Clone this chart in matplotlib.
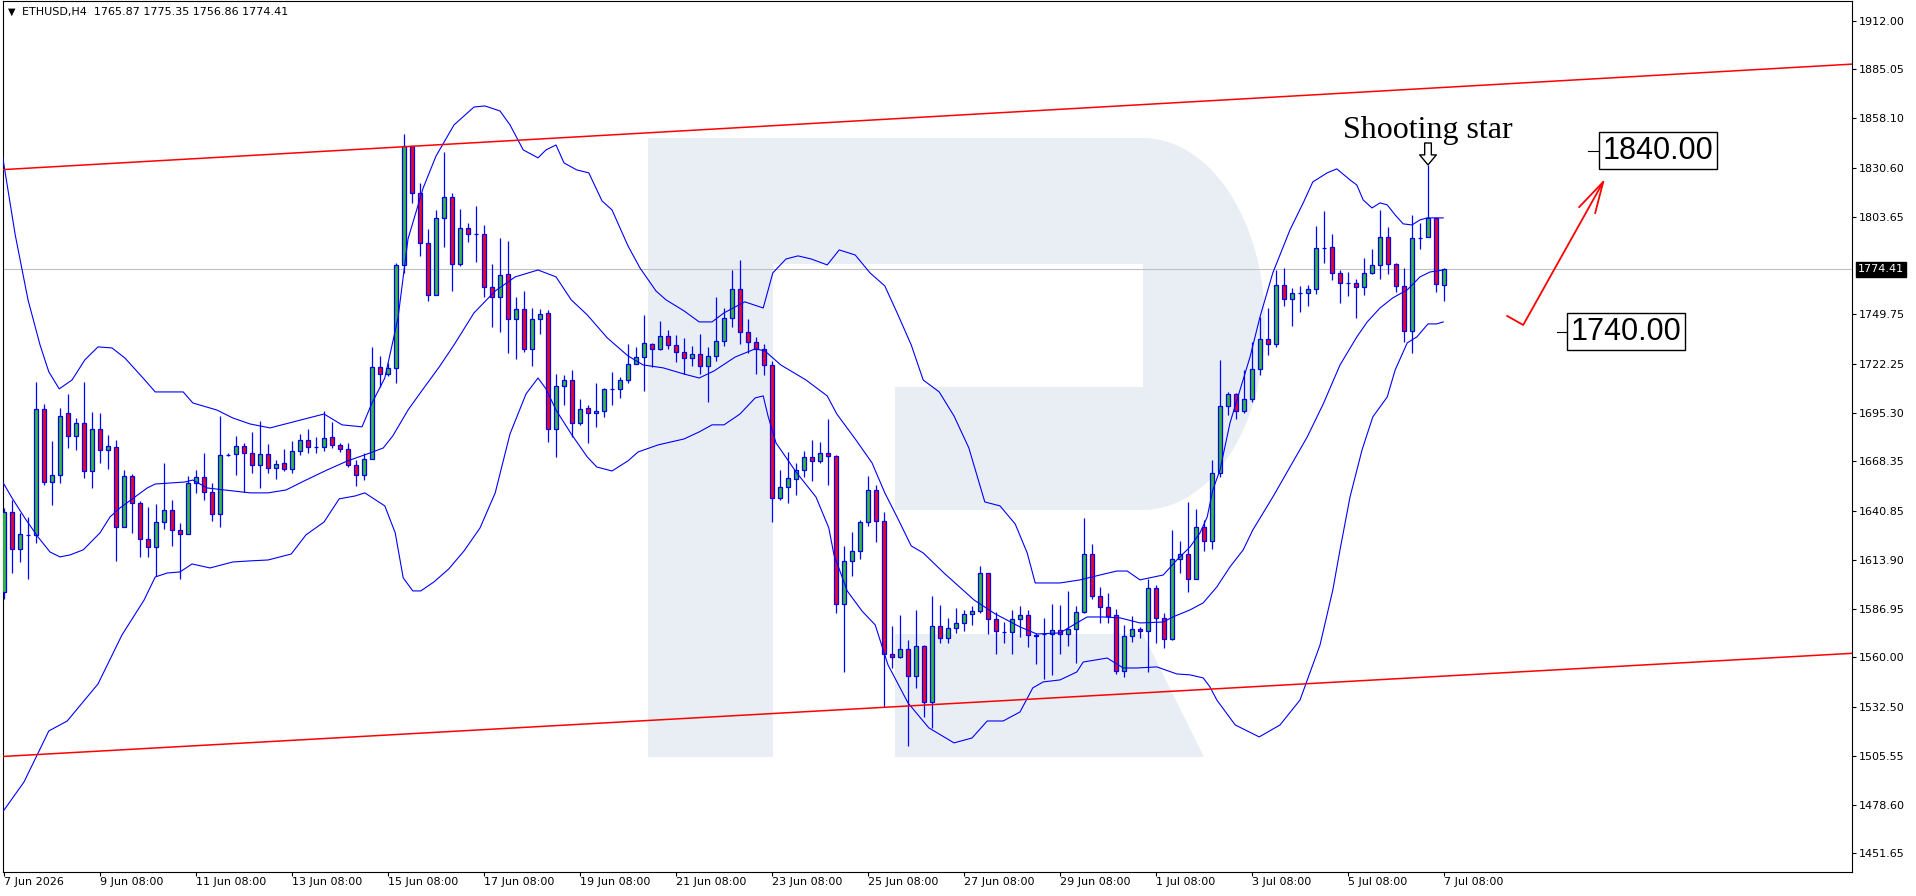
import matplotlib
matplotlib.use('Agg')
import matplotlib.pyplot as plt
from matplotlib.patches import Polygon
from matplotlib.transforms import blended_transform_factory
import numpy as np

# ---- data (H4 bars, 7 Jun 08:00 .. 7 Jul 08:00) ----
symbol = 'ETHUSD,H4'
last_ohlc = '1765.87 1775.35 1756.86 1774.41'

opens = [
    1596.3, 1640.5, 1619.7, 1627.6, 1627.6, 1697.1, 1656.8, 1660.6, 1694.9, 1682.2,
    1689.4, 1662.8, 1686.1, 1674.4, 1676.1, 1631.9, 1660.1, 1645.2, 1625.3, 1620.8,
    1635.0, 1641.3, 1630.2, 1628.0, 1656.2, 1659.5, 1651.2, 1639.1, 1671.9, 1672.2,
    1676.7, 1672.8, 1666.3, 1672.4, 1664.5, 1667.4, 1663.9, 1673.9, 1680.0, 1676.1,
    1676.1, 1681.6, 1677.4, 1675.0, 1666.3, 1660.6, 1669.9, 1720.3, 1716.6, 1719.8,
    1776.7, 1842.5, 1816.7, 1788.9, 1760.3, 1802.7, 1814.3, 1777.3, 1797.2, 1793.8,
    1793.8, 1764.7, 1759.2, 1771.9, 1746.9, 1752.4, 1730.3, 1746.9, 1750.2, 1686.1,
    1710.0, 1713.3, 1689.4, 1697.7, 1694.9, 1696.4, 1708.4, 1708.2, 1713.3, 1722.2,
    1726.2, 1733.0, 1730.3, 1737.5, 1732.7, 1728.6, 1725.3, 1727.5, 1720.9, 1726.4,
    1734.9, 1747.4, 1763.4, 1739.7, 1734.2, 1730.5, 1721.6, 1647.9, 1654.0, 1658.4,
    1663.4, 1670.6, 1668.4, 1672.8, 1671.3, 1589.3, 1613.1, 1618.6, 1634.7, 1652.3,
    1635.2, 1561.7, 1560.0, 1564.4, 1549.5, 1566.1, 1535.5, 1577.2, 1570.5, 1576.1,
    1579.0, 1584.0, 1585.4, 1606.5, 1581.0, 1574.0, 1573.8, 1581.0, 1583.2, 1572.6,
    1572.9, 1572.9, 1574.9, 1572.7, 1575.5, 1584.9, 1616.9, 1593.9, 1587.7, 1583.2,
    1552.5, 1571.8, 1575.5, 1574.4, 1598.5, 1581.7, 1570.1, 1614.2, 1616.9, 1603.1,
    1632.3, 1624.1, 1662.1, 1699.1, 1705.4, 1696.2, 1702.6, 1719.2, 1735.8, 1733.0,
    1765.8, 1757.9, 1761.6, 1761.6, 1763.4, 1786.5, 1786.7, 1772.3, 1767.1, 1767.1,
    1764.6, 1772.3, 1776.7, 1792.6, 1777.3, 1765.3, 1740.2, 1792.0, 1792.2, 1803.1,
    1765.87]

highs = [
    1642.4, 1647.0, 1639.6, 1637.8, 1712.0, 1700.1, 1679.6, 1697.7, 1705.6, 1692.5,
    1712.0, 1695.8, 1694.9, 1682.7, 1680.2, 1663.6, 1661.6, 1646.6, 1643.3, 1644.6,
    1667.6, 1647.0, 1634.1, 1660.4, 1663.6, 1673.2, 1656.2, 1693.4, 1672.8, 1682.4,
    1678.3, 1684.8, 1690.6, 1677.9, 1669.1, 1675.2, 1679.6, 1683.5, 1686.1, 1682.0,
    1696.2, 1689.9, 1678.7, 1678.3, 1669.1, 1673.1, 1731.8, 1726.6, 1722.5, 1777.8,
    1849.3, 1842.5, 1822.1, 1796.8, 1807.3, 1839.6, 1816.9, 1807.9, 1799.9, 1809.5,
    1799.0, 1777.3, 1791.6, 1790.0, 1759.4, 1762.7, 1752.9, 1752.8, 1752.0, 1716.6,
    1716.1, 1718.9, 1702.8, 1699.5, 1711.8, 1709.1, 1717.9, 1715.2, 1733.2, 1731.6,
    1749.3, 1734.0, 1745.9, 1741.0, 1738.2, 1736.5, 1732.1, 1738.8, 1731.6, 1759.4,
    1753.3, 1774.1, 1779.7, 1747.0, 1737.1, 1733.0, 1724.0, 1663.6, 1673.5, 1667.3,
    1674.1, 1680.2, 1679.2, 1692.0, 1671.9, 1621.6, 1629.3, 1635.9, 1660.3, 1655.3,
    1640.5, 1577.3, 1583.4, 1569.6, 1586.2, 1566.8, 1593.9, 1589.0, 1581.6, 1587.1,
    1586.2, 1588.6, 1610.5, 1606.5, 1585.3, 1579.7, 1586.2, 1588.4, 1586.2, 1573.3,
    1581.6, 1589.3, 1588.9, 1596.7, 1588.4, 1636.9, 1622.7, 1599.1, 1595.4, 1586.5,
    1577.9, 1582.9, 1577.0, 1603.3, 1600.0, 1584.7, 1630.4, 1624.3, 1645.7, 1641.8,
    1636.0, 1669.1, 1724.4, 1706.9, 1705.9, 1718.9, 1734.5, 1748.3, 1752.9, 1774.1,
    1775.1, 1764.0, 1765.3, 1765.8, 1798.5, 1806.8, 1794.0, 1774.1, 1772.9, 1769.0,
    1780.6, 1785.7, 1807.3, 1798.1, 1778.2, 1775.1, 1804.5, 1800.0, 1832.2, 1803.1,
    1775.35]

lows = [
    1592.0, 1606.5, 1612.9, 1603.3, 1623.0, 1655.3, 1644.2, 1656.6, 1675.7, 1674.6,
    1659.2, 1653.8, 1667.6, 1664.3, 1613.5, 1631.9, 1628.9, 1615.7, 1615.7, 1605.2,
    1631.1, 1621.7, 1603.1, 1628.0, 1650.7, 1647.0, 1635.6, 1632.3, 1671.3, 1660.8,
    1651.6, 1661.7, 1653.4, 1661.7, 1658.4, 1663.0, 1661.7, 1671.9, 1672.8, 1672.8,
    1674.3, 1675.5, 1673.5, 1665.0, 1654.7, 1658.0, 1669.5, 1709.3, 1715.5, 1711.5,
    1772.3, 1811.0, 1782.1, 1757.2, 1760.3, 1786.7, 1762.7, 1776.5, 1789.8, 1778.4,
    1759.4, 1742.4, 1740.0, 1728.4, 1724.8, 1729.0, 1721.3, 1738.6, 1679.2, 1670.9,
    1699.5, 1681.6, 1688.5, 1678.3, 1687.2, 1693.1, 1699.5, 1703.6, 1711.5, 1722.0,
    1707.4, 1720.3, 1729.9, 1730.7, 1723.5, 1716.5, 1721.3, 1716.5, 1701.4, 1724.0,
    1732.1, 1742.8, 1733.0, 1728.4, 1716.5, 1716.0, 1635.0, 1647.0, 1645.2, 1649.8,
    1659.5, 1657.7, 1667.3, 1655.1, 1584.7, 1552.1, 1605.2, 1614.2, 1632.8, 1624.0,
    1532.4, 1553.9, 1559.5, 1511.2, 1542.9, 1527.2, 1520.8, 1567.8, 1567.8, 1573.3,
    1574.8, 1577.9, 1584.3, 1572.7, 1562.0, 1568.1, 1561.8, 1571.4, 1565.9, 1556.3,
    1547.9, 1550.2, 1561.7, 1566.3, 1556.7, 1584.7, 1592.1, 1579.2, 1578.8, 1550.6,
    1549.3, 1568.3, 1570.9, 1552.1, 1567.7, 1565.0, 1569.6, 1606.5, 1596.3, 1603.1,
    1618.6, 1619.7, 1659.9, 1694.0, 1691.6, 1694.9, 1701.3, 1716.1, 1727.1, 1731.8,
    1754.2, 1743.2, 1751.1, 1754.2, 1760.9, 1778.2, 1768.6, 1756.1, 1759.8, 1747.8,
    1760.3, 1771.9, 1769.0, 1771.7, 1762.1, 1734.5, 1728.4, 1785.7, 1792.2, 1762.1,
    1756.86]

closes = [
    1640.5, 1619.7, 1628.0, 1627.6, 1697.1, 1656.8, 1660.6, 1693.2, 1682.2, 1689.4,
    1662.8, 1686.1, 1674.4, 1676.8, 1631.9, 1660.1, 1645.2, 1625.3, 1620.8, 1634.6,
    1641.3, 1630.2, 1628.0, 1656.2, 1659.5, 1651.2, 1639.1, 1671.7, 1671.9, 1676.7,
    1672.8, 1666.3, 1672.4, 1664.5, 1666.9, 1663.9, 1673.9, 1680.0, 1676.1, 1676.1,
    1681.1, 1677.4, 1675.0, 1666.3, 1660.6, 1669.9, 1720.3, 1716.6, 1719.8, 1776.7,
    1842.5, 1816.7, 1788.9, 1760.3, 1802.7, 1814.3, 1777.3, 1797.2, 1794.0, 1793.8,
    1764.7, 1759.2, 1771.2, 1746.9, 1752.4, 1730.3, 1746.9, 1749.6, 1686.1, 1710.0,
    1713.3, 1689.4, 1697.1, 1694.9, 1696.2, 1708.4, 1708.4, 1713.3, 1722.2, 1726.2,
    1733.6, 1730.3, 1737.6, 1732.7, 1728.6, 1725.3, 1727.5, 1720.9, 1726.4, 1734.9,
    1747.4, 1763.4, 1739.7, 1734.2, 1730.7, 1721.6, 1647.9, 1654.0, 1659.0, 1663.4,
    1670.6, 1668.4, 1672.8, 1671.3, 1589.3, 1613.1, 1618.6, 1634.7, 1652.3, 1635.2,
    1561.7, 1560.0, 1564.4, 1549.5, 1566.1, 1535.5, 1577.2, 1570.5, 1576.1, 1579.0,
    1584.0, 1585.4, 1606.5, 1581.0, 1574.4, 1574.0, 1581.0, 1583.2, 1572.2, 1572.0,
    1572.9, 1574.9, 1572.9, 1575.5, 1584.9, 1616.9, 1593.9, 1587.7, 1582.9, 1552.5,
    1571.8, 1575.5, 1574.4, 1598.5, 1581.7, 1570.1, 1614.2, 1616.9, 1603.1, 1632.3,
    1624.1, 1662.1, 1699.1, 1705.4, 1696.2, 1702.6, 1719.2, 1735.8, 1733.0, 1765.8,
    1757.9, 1761.2, 1761.6, 1763.4, 1786.1, 1786.5, 1772.3, 1766.8, 1767.1, 1764.6,
    1772.3, 1776.7, 1792.6, 1777.5, 1765.3, 1740.2, 1791.6, 1792.0, 1803.1, 1766.2,
    1774.41]

# bollinger bands: (bar index, price)
bb_upper = [
    (-0.25, 1838.8), (1.4, 1793.5), (3.0, 1757.6), (4.5, 1732.7), (5.6, 1717.8), (6.9, 1708.4),
    (8.5, 1713.3), (10.1, 1724.4), (11.75, 1731.6), (13.5, 1731.0), (15.1, 1725.5), (17.6, 1713.3),
    (18.9, 1706.7), (22.4, 1706.7), (23.6, 1700.6), (26.6, 1696.7), (28.6, 1692.3), (30.75, 1689.0),
    (33.25, 1686.8), (37.1, 1691.2), (40.0, 1694.5), (42.25, 1688.5), (44.75, 1687.4), (46.0, 1700.6),
    (47.6, 1714.4), (49.25, 1747.6), (50.5, 1791.3), (52.4, 1819.5), (54.0, 1837.1), (56.25, 1854.3),
    (58.75, 1864.2), (60.1, 1864.8), (62.0, 1862.0), (63.25, 1854.3), (64.9, 1840.5), (66.75, 1836.1),
    (67.75, 1840.5), (69.0, 1843.2), (70.0, 1833.3), (71.6, 1829.4), (73.1, 1827.8), (74.75, 1812.3),
    (76.0, 1807.3), (78.0, 1787.4), (79.5, 1775.2), (81.5, 1762.5), (82.75, 1757.6), (85.0, 1751.5),
    (86.9, 1745.4), (88.5, 1745.4), (90.0, 1750.4), (92.6, 1756.5), (94.9, 1753.1), (96.1, 1772.5),
    (97.75, 1780.2), (99.25, 1781.9), (100.9, 1780.2), (102.9, 1776.9), (104.4, 1785.2), (106.4, 1782.4),
    (108.25, 1772.5), (110.1, 1765.3), (111.75, 1749.3), (113.4, 1732.7), (114.9, 1713.3), (116.9, 1706.7),
    (118.75, 1693.4), (120.6, 1675.8), (122.6, 1645.9), (124.5, 1643.7), (126.4, 1633.7), (127.9, 1617.7),
    (128.9, 1601.1), (132.0, 1601.1), (134.5, 1602.8), (137.0, 1605.5), (139.1, 1607.7), (140.4, 1607.7),
    (142.0, 1602.8), (144.9, 1605.5), (146.6, 1613.8), (148.25, 1621.0), (149.5, 1628.8), (150.4, 1637.6),
    (151.1, 1652.5), (152.0, 1663.6), (153.25, 1689.6), (154.5, 1707.8), (155.75, 1726.0), (157.0, 1748.2),
    (158.6, 1772.5), (160.75, 1796.3), (162.4, 1811.2), (163.6, 1822.8), (165.4, 1827.8), (166.6, 1830.0),
    (168.25, 1823.9), (169.1, 1821.1), (169.9, 1812.8), (171.0, 1808.4), (172.0, 1811.2), (172.9, 1810.1),
    (173.9, 1804.5), (174.9, 1799.6), (176.0, 1799.0), (177.0, 1801.8), (177.9, 1802.9), (179.9, 1802.9)]

bb_middle = [
    (-0.1, 1656.4), (1.0, 1648.1), (2.6, 1637.0), (4.25, 1626.5), (5.75, 1618.2), (7.0, 1615.5),
    (8.25, 1616.6), (9.9, 1619.4), (12.0, 1628.8), (13.25, 1637.6), (14.5, 1642.6), (17.9, 1653.6),
    (18.9, 1655.8), (22.6, 1656.9), (23.6, 1658.0), (25.4, 1653.6), (30.75, 1650.9), (33.0, 1650.9),
    (35.25, 1652.5), (37.75, 1658.0), (40.4, 1663.6), (42.9, 1668.5), (45.4, 1672.4), (47.4, 1675.7),
    (48.6, 1682.4), (50.5, 1696.7), (52.4, 1708.4), (54.4, 1720.5), (56.25, 1732.7), (58.75, 1750.4),
    (61.4, 1762.5), (63.9, 1770.3), (66.75, 1774.1), (69.0, 1770.3), (70.9, 1757.6), (72.9, 1749.3),
    (75.4, 1736.6), (78.0, 1726.6), (79.9, 1721.6), (82.4, 1720.0), (85.0, 1716.6), (86.9, 1714.4),
    (88.75, 1718.3), (91.4, 1726.0), (93.9, 1730.5), (95.1, 1729.4), (97.1, 1721.6), (100.25, 1713.3),
    (102.9, 1704.5), (104.1, 1694.5), (106.4, 1680.7), (108.5, 1667.5), (110.1, 1650.9), (111.75, 1636.5),
    (113.4, 1621.6), (114.9, 1617.7), (117.5, 1606.6), (121.25, 1591.7), (123.9, 1584.0), (127.0, 1576.8),
    (129.1, 1572.9), (132.0, 1573.5), (134.1, 1579.0), (135.4, 1582.3), (137.4, 1582.3), (139.5, 1581.8),
    (142.0, 1579.0), (144.9, 1579.5), (146.1, 1582.3), (148.25, 1586.2), (149.9, 1590.1), (151.6, 1598.9),
    (153.25, 1610.0), (154.9, 1619.4), (156.1, 1630.4), (158.6, 1648.6), (160.75, 1665.2), (162.9, 1681.8),
    (164.9, 1700.0), (167.0, 1721.6), (169.1, 1737.1), (170.4, 1745.4), (172.0, 1753.1), (173.6, 1758.7),
    (175.4, 1763.1), (177.0, 1770.3), (178.25, 1773.0), (179.9, 1774.1)]

bb_lower = [
    (-0.25, 1474.0), (2.5, 1491.1), (5.6, 1519.3), (7.9, 1524.8), (11.75, 1545.3), (14.75, 1572.4),
    (17.5, 1591.6), (18.9, 1604.4), (20.4, 1606.6), (22.0, 1607.2), (23.5, 1611.6), (25.75, 1609.4),
    (28.6, 1612.7), (30.75, 1613.3), (33.0, 1613.8), (35.9, 1617.1), (37.75, 1627.7), (40.0, 1634.8),
    (41.9, 1647.6), (43.9, 1649.2), (45.1, 1650.9), (47.6, 1643.7), (48.9, 1628.8), (49.9, 1603.9),
    (51.1, 1596.7), (52.1, 1596.7), (53.75, 1601.7), (55.6, 1608.9), (57.5, 1618.8), (59.5, 1631.5),
    (61.4, 1650.9), (63.25, 1683.5), (65.25, 1705.6), (66.75, 1714.4), (67.75, 1708.4), (69.0, 1696.7),
    (70.9, 1683.5), (72.9, 1670.8), (74.1, 1665.2), (76.0, 1663.0), (78.0, 1668.6), (79.25, 1673.5),
    (81.75, 1677.4), (85.0, 1680.7), (86.9, 1684.6), (88.5, 1688.5), (90.0, 1688.5), (92.0, 1694.5),
    (93.9, 1703.4), (94.9, 1704.5), (95.5, 1693.4), (96.5, 1678.5), (99.0, 1662.5), (101.5, 1648.6),
    (103.1, 1631.5), (103.75, 1616.6), (105.4, 1596.7), (107.25, 1585.6), (108.9, 1577.9), (110.5, 1555.8),
    (113.0, 1534.8), (115.6, 1521.0), (118.75, 1512.7), (121.0, 1515.4), (122.9, 1524.8), (124.9, 1524.8),
    (127.0, 1529.8), (128.6, 1543.1), (129.9, 1546.4), (132.0, 1547.5), (134.1, 1551.9), (134.9, 1557.4),
    (137.9, 1559.6), (139.9, 1554.1), (141.6, 1554.1), (144.1, 1554.7), (146.6, 1550.8), (148.25, 1550.3),
    (149.9, 1548.6), (150.75, 1543.6), (151.6, 1536.4), (153.9, 1522.6), (156.9, 1516.0), (159.5, 1522.6),
    (162.0, 1536.4), (164.5, 1566.8), (166.1, 1597.2), (167.0, 1619.4), (168.25, 1648.6), (169.75, 1674.6),
    (171.1, 1692.9), (172.9, 1703.9), (173.9, 1718.9), (175.4, 1733.8), (176.6, 1737.1), (178.0, 1744.3),
    (179.1, 1744.3), (179.9, 1745.4)]

# trend channel drawn on the chart (bar index, price)
channel_top = [(-0.5, 1829.5), (231.0, 1887.9)]
channel_bottom = [(-0.5, 1505.1), (231.0, 1562.2)]

time_labels = ['7 Jun 2026', '9 Jun 08:00', '11 Jun 08:00', '13 Jun 08:00', '15 Jun 08:00',
               '17 Jun 08:00', '19 Jun 08:00', '21 Jun 08:00', '23 Jun 08:00', '25 Jun 08:00',
               '27 Jun 08:00', '29 Jun 08:00', '1 Jul 08:00', '3 Jul 08:00', '5 Jul 08:00',
               '7 Jul 08:00']
label_step = 12

price_ticks = [1912.00, 1885.05, 1858.10, 1830.60, 1803.65, 1749.75, 1722.25, 1695.30, 1668.35,
               1640.85, 1613.90, 1586.95, 1560.00, 1532.50, 1505.55, 1478.60, 1451.65]
current_price = 1774.41

shooting_star_bar = 178
target_up = 1840.00
target_down = 1740.00
forecast_path = [(187.9, 1748.7), (189.9, 1743.7), (199.9, 1822.8)]
forecast_head = [(196.9, 1808.9), (199.9, 1822.8), (198.9, 1805.6)]

# ---- figure ----
W, H = 1916, 896
fig = plt.figure(figsize=(W / 100, H / 100), dpi=100)
ax = fig.add_axes([2.5 / W, 1 - 871.5 / H, (1852 - 2.5) / W, (871.5 - 1) / H])

green = '#36b936'
red = '#ee0a1e'
blue = '#0000ff'

# watermark "R" logo (pixel layout, y from top)
def fig_xy(pts):
    return [(x / W, 1 - y / H) for x, y in pts]

wm = '#e9eef5'
a = np.linspace(np.pi / 2, -np.pi / 2, 60)
arc = [(1143 + 122 * np.cos(t), 324 - 186 * np.sin(t)) for t in a]
shapes = [
    [(648, 138), (773, 138), (773, 757), (648, 757)],
    [(773, 138)] + arc + [(895, 510), (895, 387), (1143, 387), (1143, 264), (773, 264)],
    [(895, 634), (1143, 634), (1204, 757), (895, 757)],
]
for s in shapes:
    ax.add_patch(Polygon(fig_xy(s), closed=True, transform=fig.transFigure,
                         facecolor=wm, edgecolor='none', zorder=0))

ax.axhline(current_price, color='#c0c0c0', lw=0.8, zorder=1)

# candles
o = np.array(opens)
h = np.array(highs)
l = np.array(lows)
c = np.array(closes)
idx = np.arange(len(o))
ax.vlines(idx, l, h, color=blue, lw=0.9, zorder=3)
ax.bar(idx, np.abs(c - o), bottom=np.minimum(o, c), width=0.62,
       color=np.where(c >= o, green, red), edgecolor=blue, linewidth=0.9, zorder=4)

# bands and channel
for band in (bb_upper, bb_middle, bb_lower):
    bx, by = zip(*band)
    ax.plot(bx, by, color=blue, lw=0.8, zorder=5)
for line in (channel_top, channel_bottom):
    lx, ly = zip(*line)
    ax.plot(lx, ly, color='#ff0000', lw=1.1, zorder=6)

# annotations
ax.text(shooting_star_bar, 1847.0, 'Shooting star', family='Liberation Serif', fontsize=23,
        ha='center', va='baseline', zorder=7)
ax.annotate('', xy=(shooting_star_bar, 1832.2), xytext=(shooting_star_bar, 1844.3),
            arrowprops=dict(arrowstyle='simple,head_length=0.45,head_width=0.75,tail_width=0.3',
                            fc='white', ec='black', lw=1, shrinkA=0, shrinkB=0,
                            mutation_scale=16), zorder=7)

box = dict(boxstyle='square,pad=0.12', fc='white', ec='black', lw=1)
ax.text(206.7, target_up, f'{target_up:.2f}', family='Liberation Sans', fontsize=22,
        ha='center', va='center', bbox=box, zorder=7)
ax.plot([198.0, 199.25], [target_up, target_up], color='black', lw=0.8, zorder=7)
ax.text(202.75, target_down, f'{target_down:.2f}', family='Liberation Sans', fontsize=22,
        ha='center', va='center', bbox=box, zorder=7)
ax.plot([194.1, 195.4], [target_down, target_down], color='black', lw=0.8, zorder=7)

fx, fy = zip(*forecast_path)
ax.plot(fx, fy, color='#ff0000', lw=1.3, zorder=7)
hx, hy = zip(*forecast_head)
ax.plot(hx, hy, color='#ff0000', lw=1.3, zorder=7)

# axes styling
ax.set_xlim(-0.19, 231.0)
ax.set_ylim(1441.6, 1922.8)
for sp in ax.spines.values():
    sp.set_linewidth(0.8)
    sp.set_color('black')

ax.yaxis.tick_right()
ax.set_yticks(price_ticks)
ax.set_yticklabels([f'{p:.2f}' for p in price_ticks])
ax.tick_params(axis='y', direction='out', length=3, width=0.8, pad=2, labelsize=8)
ax.set_xticks(np.arange(0, len(o), label_step))
ax.set_xticklabels(time_labels)
for lbl in ax.get_xticklabels():
    lbl.set_ha('left')
ax.tick_params(axis='x', direction='out', length=3, width=0.8, pad=1, labelsize=8)

trans = blended_transform_factory(ax.transAxes, ax.transData)
ax.text(1.0032, current_price, f'{current_price:.2f}', transform=trans, color='white',
        fontsize=8, ha='left', va='center', clip_on=False,
        bbox=dict(boxstyle='square,pad=0.2', fc='black', ec='black'))

fig.text(8 / W, 1 - 12 / H, '\u25bc', fontsize=7, ha='left', va='center')
fig.text(22 / W, 1 - 12 / H, f'{symbol}  {last_ohlc}', fontsize=8, ha='left', va='center')

fig.savefig('out.png', dpi=100)
